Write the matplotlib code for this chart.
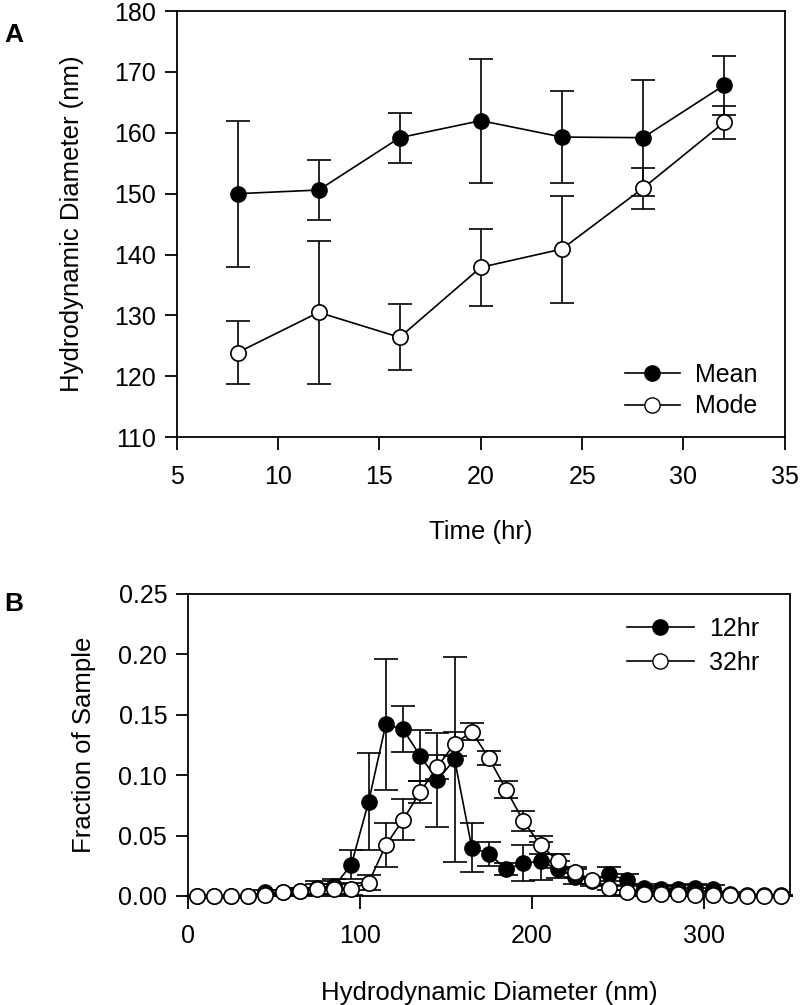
import numpy as np
import matplotlib
matplotlib.use("Agg")
import matplotlib.pyplot as plt
from matplotlib.lines import Line2D

plt.rcParams['font.family'] = ['Liberation Sans', 'DejaVu Sans']

# panel A: size vs time
time_hr = [8, 12, 16, 20, 24, 28, 32]
mean_nm = [150.0, 150.6, 159.2, 162.0, 159.3, 159.2, 167.8]
mean_err = [12.0, 4.9, 4.1, 10.2, 7.6, 9.5, 4.8]
mode_nm = [123.9, 130.5, 126.4, 137.9, 140.9, 150.9, 161.7]
mode_err = [5.2, 11.8, 5.4, 6.3, 8.8, 3.4, 2.65]

# panel B: size distributions
diam_nm = [5, 15, 25, 35, 45, 55, 65, 75, 85, 95, 105, 115, 125, 135, 145,
           155, 165, 175, 185, 195, 205, 215, 225, 235, 245, 255, 265, 275,
           285, 295, 305, 315, 325, 335, 345]
frac_12 = [0, 0, 0, 0, 0.003, 0.003, 0.004, 0.007, 0.008, 0.026, 0.078,
           0.142, 0.138, 0.116, 0.096, 0.113, 0.040, 0.035, 0.022, 0.027,
           0.029, 0.022, 0.016, 0.012, 0.018, 0.013, 0.007, 0.006, 0.006,
           0.007, 0.006, 0.002, 0.001, 0.001, 0.001]
err_12 = [0, 0, 0, 0, 0.002, 0.002, 0.003, 0.005, 0.006, 0.012, 0.040,
          0.054, 0.019, 0.021, 0.039, 0.085, 0.020, 0.010, 0.005, 0.015,
          0.016, 0.007, 0.006, 0.004, 0.006, 0.005, 0.003, 0.002, 0.003,
          0.003, 0.003, 0.001, 0, 0, 0]
frac_32 = [0, 0, 0, 0, 0.001, 0.003, 0.004, 0.006, 0.006, 0.006, 0.011,
           0.042, 0.063, 0.086, 0.107, 0.126, 0.136, 0.114, 0.088, 0.062,
           0.042, 0.029, 0.020, 0.013, 0.007, 0.003, 0.002, 0.002, 0.002,
           0.001, 0.001, 0.001, 0, 0, 0]
err_32 = [0, 0, 0, 0, 0.001, 0.002, 0.003, 0.004, 0.004, 0.005, 0.006,
          0.018, 0.017, 0.009, 0.010, 0.010, 0.007, 0.006, 0.007, 0.008,
          0.0075, 0.0055, 0.004, 0.003, 0.002, 0.002, 0.001, 0.001, 0.001,
          0.001, 0.001, 0, 0, 0, 0]

ms = 11
lw = 1.2
cap = 8.5
tick_fs = 18
lab_fs = 18.5

fig = plt.figure(figsize=(8, 10.05), dpi=100)
axA = fig.add_axes([0.221, 0.565, 0.760, 0.424])
axB = fig.add_axes([0.235, 0.1085, 0.7525, 0.3005])


def style_ax(ax):
    for s in ax.spines.values():
        s.set_linewidth(1.3)
    ax.tick_params(direction='out', length=9, width=1.3, labelsize=tick_fs)
    ax.tick_params(axis='x', pad=11)
    ax.tick_params(axis='y', pad=6)


# ---- panel A
axA.errorbar(time_hr, mean_nm, yerr=mean_err, color='black', lw=lw,
             elinewidth=lw, capsize=cap, capthick=lw, marker='o', ms=ms,
             mfc='black', mec='black', zorder=3)
axA.errorbar(time_hr, mode_nm, yerr=mode_err, color='black', lw=lw,
             elinewidth=lw, capsize=cap, capthick=lw, marker='o', ms=ms,
             mfc='white', mec='black', mew=1.2, zorder=4)
axA.set_xlim(5, 35)
axA.set_ylim(110, 180)
axA.set_xticks(np.arange(5, 36, 5))
axA.set_yticks(np.arange(110, 181, 10))
style_ax(axA)
axA.set_xlabel('Time (hr)', fontsize=lab_fs, labelpad=22)
axA.set_ylabel('Hydrodynamic Diameter (nm)', fontsize=lab_fs, labelpad=22)
hA = [Line2D([], [], color='black', lw=lw, marker='o', ms=ms, mfc='black', mec='black'),
      Line2D([], [], color='black', lw=lw, marker='o', ms=ms, mfc='white', mec='black')]
axA.legend(hA, ['Mean', 'Mode'], loc='lower right', bbox_to_anchor=(0.975, 0.015),
           frameon=False, fontsize=tick_fs, handlelength=2.2, handletextpad=0.6,
           labelspacing=0.3, borderpad=0)
fig.text(0.005, 0.958, 'A', fontsize=19, fontweight='bold')

# ---- panel B
axB.errorbar(diam_nm, frac_12, yerr=err_12, color='black', lw=lw,
             elinewidth=lw, capsize=cap, capthick=lw, marker='o', ms=ms,
             mfc='black', mec='black', zorder=3, clip_on=False)
axB.errorbar(diam_nm, frac_32, yerr=err_32, color='black', lw=lw,
             elinewidth=lw, capsize=cap, capthick=lw, marker='o', ms=ms,
             mfc='white', mec='black', mew=1.2, zorder=4, clip_on=False)
axB.set_xlim(0, 350)
axB.set_ylim(0, 0.25)
axB.set_xticks([0, 100, 200, 300])
axB.set_yticks(np.arange(0, 0.251, 0.05))
axB.yaxis.set_major_formatter(matplotlib.ticker.FormatStrFormatter('%.2f'))
style_ax(axB)
axB.set_xlabel('Hydrodynamic Diameter (nm)', fontsize=lab_fs, labelpad=24)
axB.set_ylabel('Fraction of Sample', fontsize=lab_fs, labelpad=16)
hB = [Line2D([], [], color='black', lw=lw, marker='o', ms=ms, mfc='black', mec='black'),
      Line2D([], [], color='black', lw=lw, marker='o', ms=ms, mfc='white', mec='black')]
axB.legend(hB, ['12hr', '32hr'], loc='upper right', bbox_to_anchor=(0.97, 0.965),
           frameon=False, fontsize=tick_fs, handlelength=2.7, handletextpad=0.6,
           labelspacing=0.4, borderpad=0)
fig.text(0.005, 0.392, 'B', fontsize=19, fontweight='bold')

fig.savefig('out.png', dpi=100)
